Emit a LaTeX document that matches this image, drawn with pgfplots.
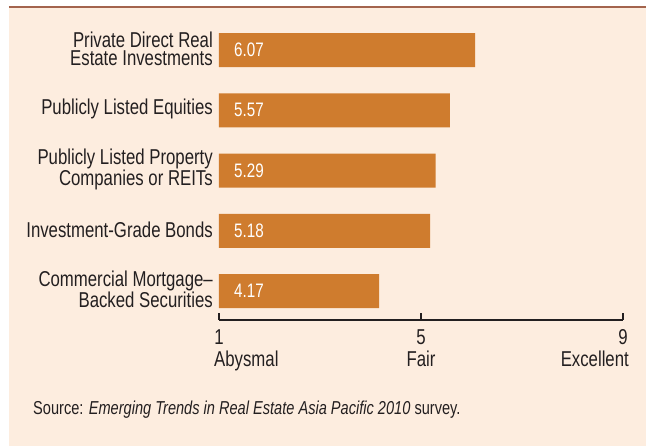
\documentclass[border=0pt]{standalone}
\usepackage{fontspec}
\setmainfont{Liberation Sans}[FakeStretch=0.78]
\usepackage{pgfplots}
\pgfplotsset{compat=1.18}
\definecolor{barc}{RGB}{207,124,46}
\definecolor{bgc}{RGB}{253,237,223}
\definecolor{linec}{RGB}{163,100,77}
\definecolor{txt}{RGB}{35,31,32}
\begin{document}
\begin{tikzpicture}
\fill[white] (-219pt,-126pt) rectangle (427pt,320pt);
\path[use as bounding box] (-219pt,-126pt) rectangle (427pt,320pt);
\fill[bgc] (-210pt,-126pt) rectangle (427pt,313.3pt);
\draw[linec, line width=2pt] (-210pt,313.3pt) -- (427pt,313.3pt);
\begin{axis}[
  at={(0pt,0pt)}, anchor=south west,
  scale only axis, width=404pt, height=312.1pt,
  xmin=1, xmax=9, ymin=-0.48, ymax=4.7,
  xbar, bar width=34pt,
  axis x line*=bottom, axis y line*=left,
  y axis line style={draw=none}, ytick style={draw=none},
  x axis line style={line width=1.2pt, color=txt},
  xtick style={line width=1.2pt, color=txt},
  tick align=inside, major tick length=7pt,
  xtick={1,5,9}, xticklabels={1,5,9},
  xticklabel style={anchor=base, yshift=-25pt, inner sep=0pt, font=\fontsize{21.5}{18.3}\selectfont, text=txt},
  ytick={0,1,2,3,4},
  yticklabels={{Commercial Mortgage--\\Backed Securities},{Investment-Grade Bonds},{Publicly Listed Property\\Companies or REITs},{Publicly Listed Equities},{Private Direct Real\\Estate Investments}},
  yticklabel style={align=right, anchor=east, inner sep=0pt, xshift=-6pt, yshift=1.5pt, font=\fontsize{21.5}{18.3}\selectfont, text=txt},
]
\addplot[fill=barc, draw=none, bar shift=0pt] coordinates {(4.17,0) (5.18,1) (5.29,2) (5.57,3) (6.07,4)};
\addplot[draw=none, fill=none, bar shift=0pt, nodes near coords, point meta=explicit symbolic,
  nodes near coords style={anchor=west, xshift=15pt, inner sep=0pt, text=white, font=\fontsize{19.5}{18}\selectfont}]
  coordinates {(1,0) [4.17] (1,1) [5.18] (1,2) [5.29] (1,3) [5.57] (1,4) [6.07]};
\end{axis}
\node[anchor=base west, inner sep=0pt, text=txt, font=\fontsize{21.5}{18}\selectfont] at (-5pt,-47pt) {Abysmal};
\node[anchor=base, inner sep=0pt, text=txt, font=\fontsize{21.5}{18}\selectfont] at (202pt,-47pt) {Fair};
\node[anchor=base east, inner sep=0pt, text=txt, font=\fontsize{21.5}{18}\selectfont] at (410pt,-47pt) {Excellent};
\node[anchor=base west, inner sep=0pt, text=txt, font=\fontsize{18.7}{18}\selectfont] at (-186pt,-95pt) {Source: \textit{Emerging Trends in Real Estate Asia Pacific 2010} survey.};
\end{tikzpicture}
\end{document}
